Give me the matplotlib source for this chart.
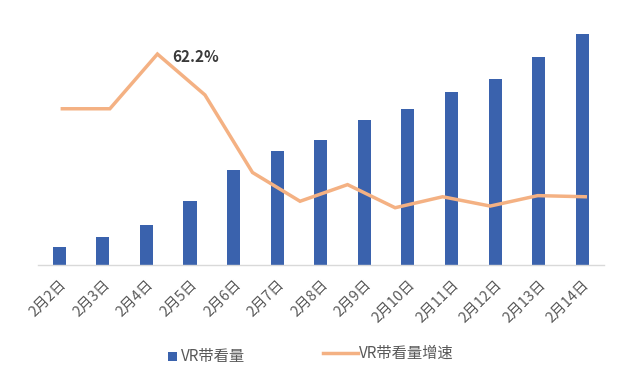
import matplotlib
matplotlib.use("Agg")
import matplotlib.pyplot as plt
import numpy as np
from matplotlib.lines import Line2D
from matplotlib.patches import Rectangle

plt.rcParams['font.family'] = ['Noto Sans CJK SC', 'DejaVu Sans']

dates = ["2月2日", "2月3日", "2月4日", "2月5日", "2月6日", "2月7日", "2月8日",
         "2月9日", "2月10日", "2月11日", "2月12日", "2月13日", "2月14日"]
views = [18, 28, 40, 64, 95, 114, 125, 145, 156, 173, 186, 208, 231]
growth = [42.8, 42.8, 62.2, 47.7, 20.2, 10.0, 15.9, 7.7, 11.6, 8.3, 12.0, 11.6]
series_names = ["VR带看量", "VR带看量增速"]

bar_color = "#3A62AD"
line_color = "#F4B183"
W, H = 617, 379

fig = plt.figure(figsize=(W / 100, H / 100), dpi=100)
ax = fig.add_axes([37.5 / W, 1 - 265 / H, (604 - 37.5) / W, 240 / H])
x = np.arange(len(dates))
ax.bar(x, views, width=0.3, color=bar_color, zorder=2)
ax.set_xlim(-0.5, len(dates) - 0.5)
ax.set_ylim(0, 240)
ax.set_yticks([])
for s in ["top", "right", "left"]:
    ax.spines[s].set_visible(False)
ax.spines["bottom"].set_color("#D9D9D9")
ax.spines["bottom"].set_linewidth(1)
ax.set_xticks(x)
ax.set_xticklabels(dates, rotation=45, ha="right", va="top", rotation_mode="anchor",
                   fontsize=10.5, color="#595959")
ax.tick_params(axis="x", length=0, pad=9)

ax2 = ax.twinx()
xl = np.linspace(0.07, len(dates) - 1 + 0.07, len(growth))
ax2.plot(xl, growth, color=line_color, lw=2.5, solid_joinstyle="miter", zorder=3)
ax2.set_ylim(-12.6, 72.5)
ax2.set_yticks([])
for s in ["top", "right", "left", "bottom"]:
    ax2.spines[s].set_visible(False)
imax = int(np.argmax(growth))
ax2.annotate(f"{growth[imax]:.1f}%", (xl[imax], growth[imax]), xytext=(11, -2),
             textcoords="offset points", fontsize=11, fontweight="bold",
             color="#3A3A3A", ha="left", va="center")

# legend drawn in figure pixel coordinates
def fx(px):
    return px / W

def fy(py):
    return 1 - py / H

fig.patches.append(Rectangle((fx(168), fy(361)), 9 / W, 9 / H, transform=fig.transFigure,
                             facecolor=bar_color, edgecolor="none"))
fig.text(fx(181), fy(356.5), series_names[0], fontsize=11, color="#595959", ha="left", va="center")
fig.lines.append(Line2D([fx(323), fx(358)], [fy(353), fy(353)], transform=fig.transFigure,
                        color=line_color, lw=2.5))
fig.text(fx(359), fy(353), series_names[1], fontsize=11, color="#595959", ha="left", va="center")

fig.savefig("out.png", dpi=100)
